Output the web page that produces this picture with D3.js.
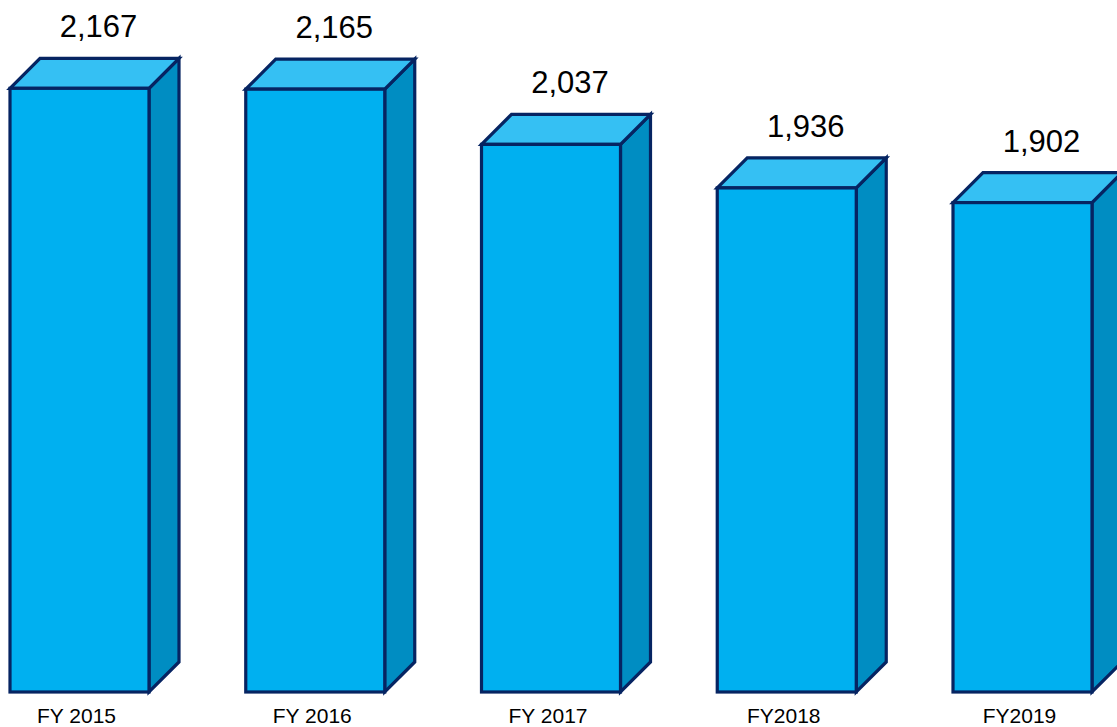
<!DOCTYPE html>
<html>
<head>
<meta charset="utf-8">
<script src="https://cdn.jsdelivr.net/npm/d3@7"></script>
<style>
  html, body { margin: 0; padding: 0; background: #fff; }
  svg { display: block; }
</style>
</head>
<body>
<svg id="chart" width="1117" height="727"></svg>
<script>
const categories = ["FY 2015", "FY 2016", "FY 2017", "FY2018", "FY2019"];
const values = [2167, 2165, 2037, 1936, 1902];
const valueLabels = ["2,167", "2,165", "2,037", "1,936", "1,902"];

const W = 1117, H = 727;
const svg = d3.select("#chart");

const baseY = 692;
const depth = 30;
const barW = 139;

const x = d3.scalePoint().domain(categories).range([79.5, 1022.5]);
const y = d3.scaleLinear().domain([767, 2200]).range([baseY, 74.1]);

const stroke = "#062462";
const sw = 3.2;

const g = svg.append("g");

categories.forEach((c, i) => {
  const cx = x(c);
  const x0 = cx - barW / 2, x1 = cx + barW / 2;
  const yt = y(values[i]), yb = baseY;
  const bar = g.append("g");
  // side face
  bar.append("polygon")
    .attr("points", [[x1, yt], [x1 + depth, yt - depth], [x1 + depth, yb - depth], [x1, yb]].map(p => p.join(",")).join(" "))
    .attr("fill", "#008dc2").attr("stroke", stroke).attr("stroke-width", sw).attr("stroke-linejoin", "miter");
  // top face
  bar.append("polygon")
    .attr("points", [[x0, yt], [x0 + depth, yt - depth], [x1 + depth, yt - depth], [x1, yt]].map(p => p.join(",")).join(" "))
    .attr("fill", "#35c0f3").attr("stroke", stroke).attr("stroke-width", sw).attr("stroke-linejoin", "miter");
  // front face
  bar.append("rect")
    .attr("x", x0).attr("y", yt).attr("width", barW).attr("height", yb - yt)
    .attr("fill", "#00b0f0").attr("stroke", stroke).attr("stroke-width", sw);
  // value label
  svg.append("text")
    .attr("x", cx + depth / 2 + 4)
    .attr("y", yt - depth - 21)
    .attr("text-anchor", "middle")
    .attr("font-family", "Liberation Sans, Arial, sans-serif")
    .attr("font-size", 31)
    .attr("fill", "#000")
    .text(valueLabels[i]);
  // category label
  svg.append("text")
    .attr("x", cx - 3)
    .attr("y", 723)
    .attr("text-anchor", "middle")
    .attr("font-family", "Liberation Sans, Arial, sans-serif")
    .attr("font-size", 21)
    .attr("fill", "#000")
    .text(c);
});
</script>
</body>
</html>
